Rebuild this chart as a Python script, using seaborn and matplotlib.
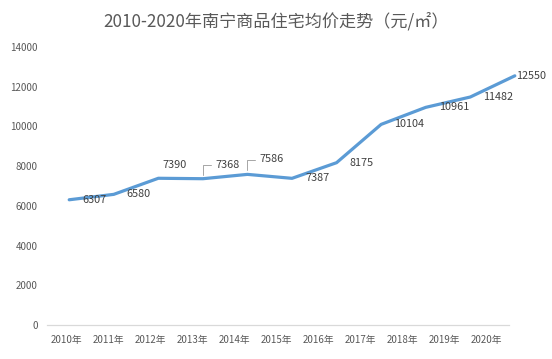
import numpy as np
import pandas as pd
import matplotlib
matplotlib.use("Agg")
import matplotlib.pyplot as plt
import seaborn as sns

years = ["2010年", "2011年", "2012年", "2013年", "2014年", "2015年",
         "2016年", "2017年", "2018年", "2019年", "2020年"]
prices = [6307, 6580, 7390, 7368, 7586, 7387, 8175, 10104, 10961, 11482, 12550]
title = "2010-2020年南宁商品住宅均价走势（元/㎡）"

sns.set_style("white")
plt.rcParams["font.family"] = ["Noto Sans CJK SC", "DejaVu Sans"]

df = pd.DataFrame({"idx": np.arange(len(years)), "price": prices})

fig = plt.figure(figsize=(5.52, 3.59), dpi=100)
ax = fig.add_axes([0.085, 0.0947, 0.888, 0.7743])

sns.lineplot(data=df, x="idx", y="price", ax=ax, color="#5B9BD5",
             linewidth=2.3, solid_capstyle="round", solid_joinstyle="round")

ax.set_xlim(-0.5, 10.5)
ax.set_ylim(0, 14000)
ax.set_yticks(range(0, 14001, 2000))
ax.tick_params(axis="y", length=0, pad=6.5, labelsize=7, labelcolor="#595959")
# category labels in the source sit slightly compressed relative to the line points
ax.set_xticks(np.arange(len(years)) * 0.944 - 0.07)
ax.set_xticklabels(years)
ax.tick_params(axis="x", length=0, pad=7, labelsize=7, labelcolor="#595959")
ax.set_xlabel("")
ax.set_ylabel("")

for s in ["top", "right", "left"]:
    ax.spines[s].set_visible(False)
ax.spines["bottom"].set_color("#d9d9d9")
ax.spines["bottom"].set_linewidth(0.9)
ax.spines["bottom"].set_bounds(-0.5, 9.87)

# data labels
offsets = {2: (16, 13, "center"), 3: (13, 14, "left"), 4: (12, 15, "left"),
           10: (1, 0, "left")}
for i, v in enumerate(prices):
    dx, dy, ha = offsets.get(i, (13, 0, "left"))
    ax.annotate(str(v), (i, v), xytext=(dx, dy), textcoords="offset pixels",
                ha=ha, va="center", fontsize=7.8, color="#404040")

# leader lines for the two labels lifted above the line
for i in (3, 4):
    ax.annotate("", (i, prices[i]), xytext=(8, 14), textcoords="offset pixels",
                arrowprops=dict(arrowstyle="-", color="#a6a6a6", lw=0.7,
                                connectionstyle="angle,angleA=0,angleB=90,rad=0",
                                shrinkA=0, shrinkB=3))

fig.text(0.5, 0.939, title, ha="center", va="center", fontsize=12.3,
         color="#595959")

fig.savefig("out.png", dpi=100)
